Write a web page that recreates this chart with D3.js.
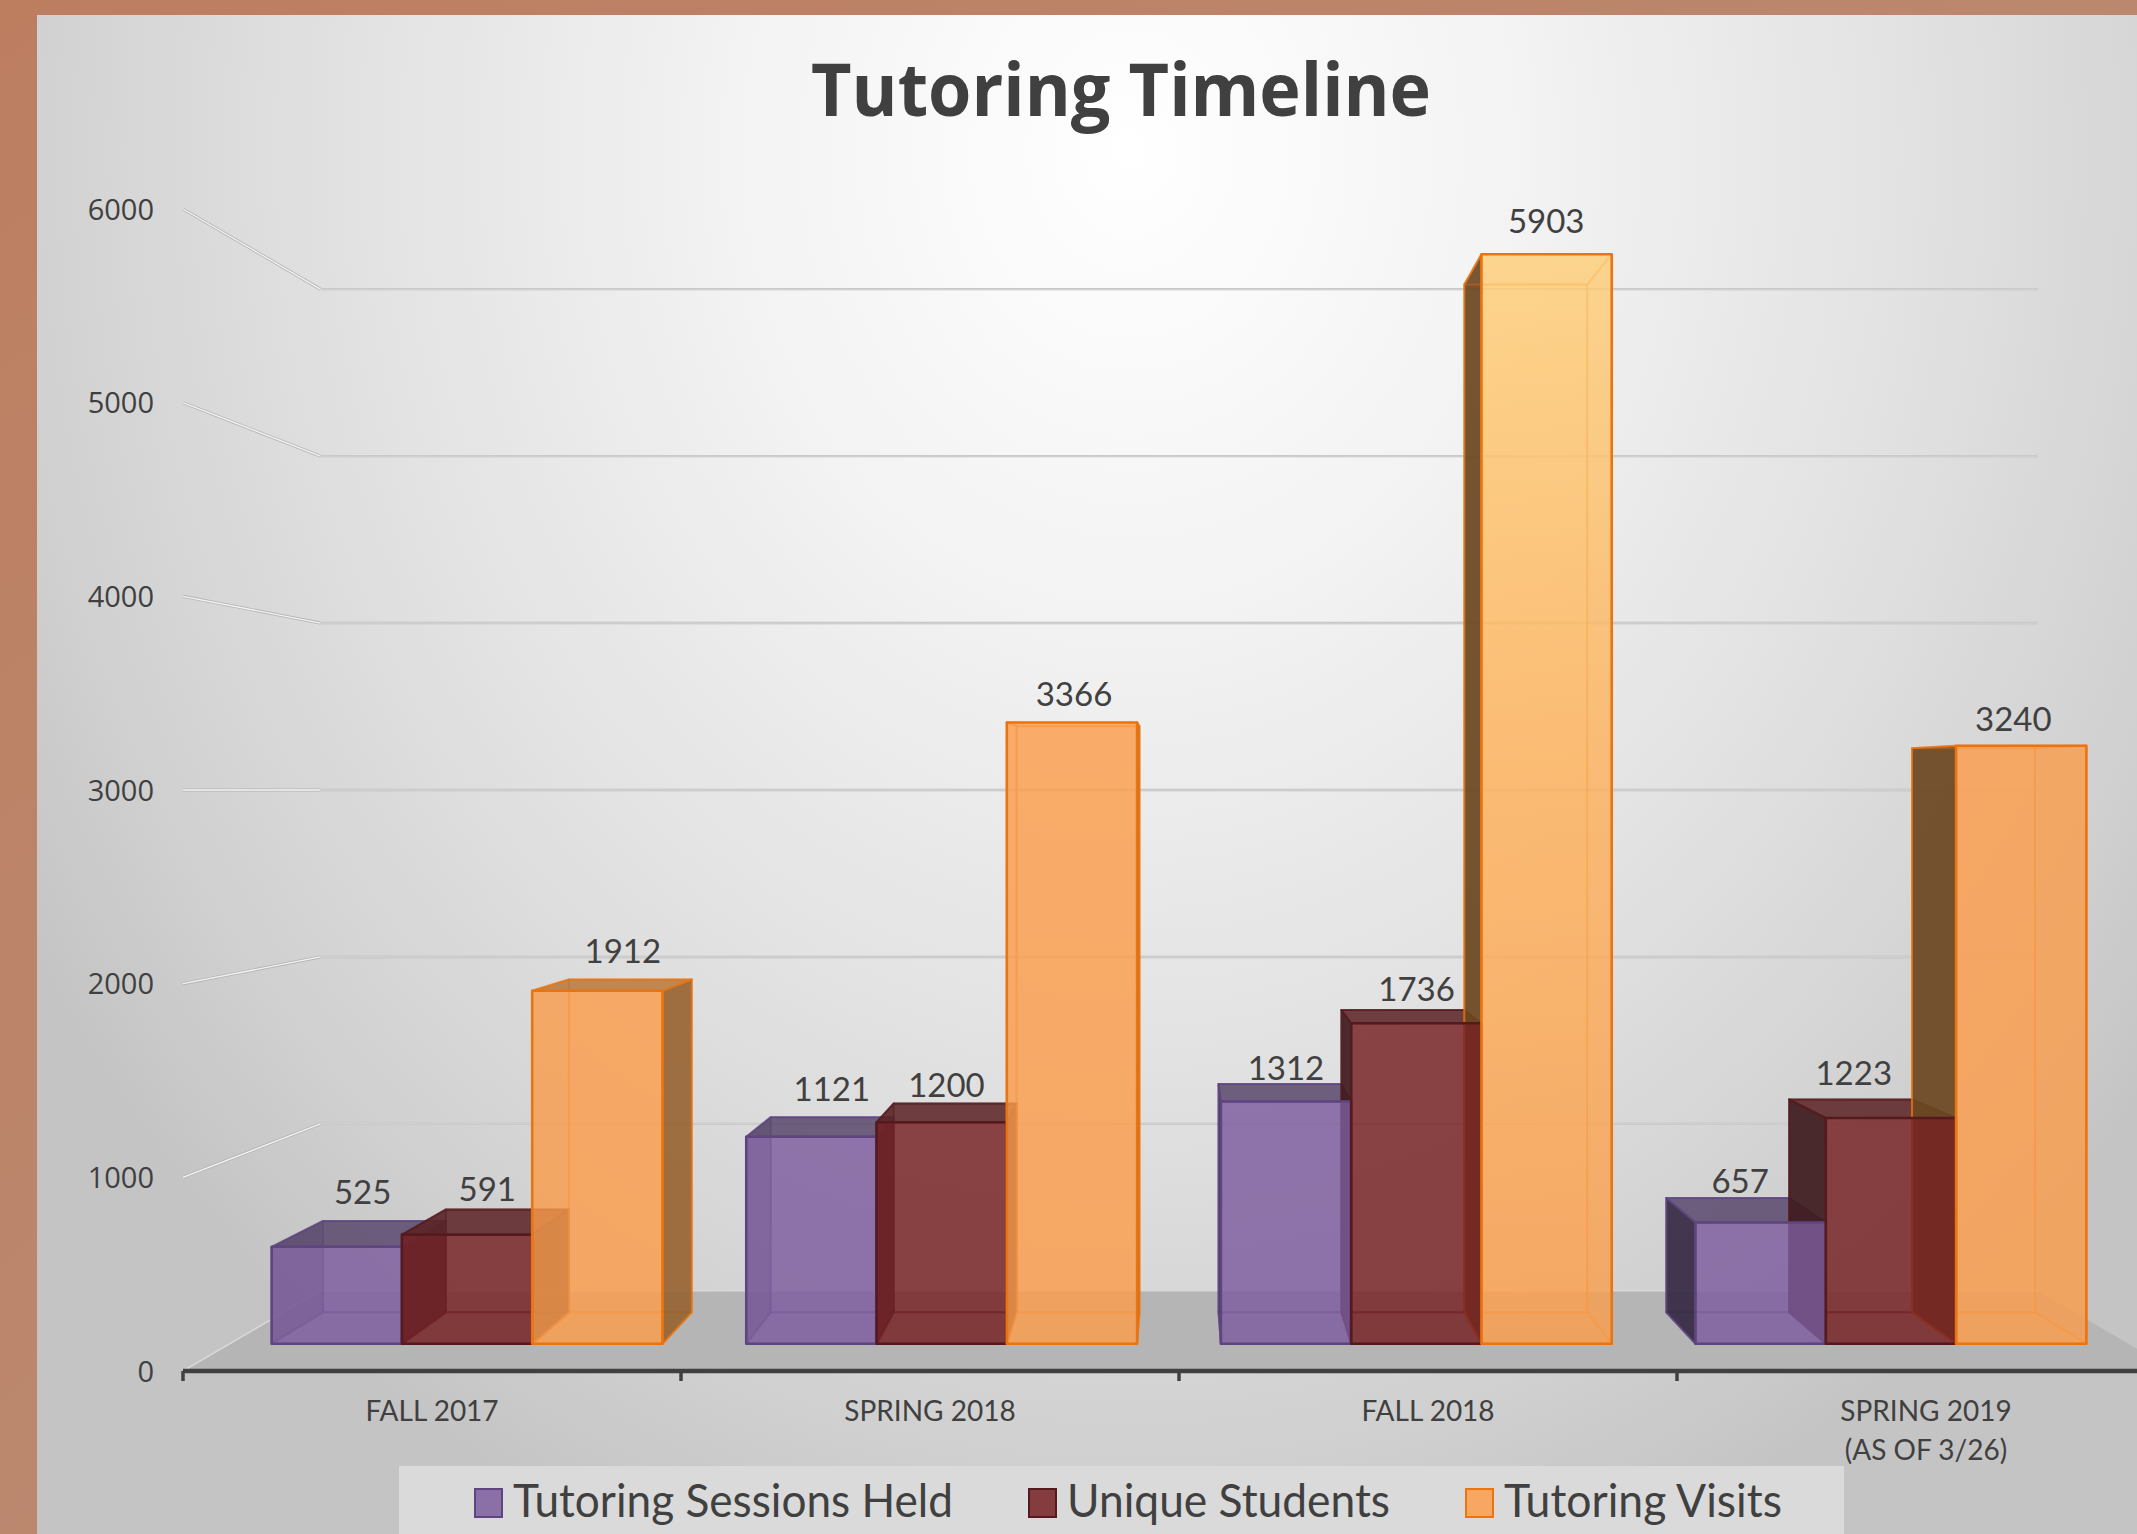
<!DOCTYPE html>
<html><head><meta charset="utf-8">
<script src="https://cdnjs.cloudflare.com/ajax/libs/d3/7.8.5/d3.min.js"></script>
<style>html,body{margin:0;padding:0;overflow:hidden;background:#bd8266}svg{display:block}</style>
</head><body><svg id="c" width="2137" height="1534"></svg>
<script>
const categories=["FALL 2017","SPRING 2018","FALL 2018","SPRING 2019"];
const categorySecondLine=["","","","(AS OF 3/26)"];
const seriesNames=["Tutoring Sessions Held","Unique Students","Tutoring Visits"];
const sessionsHeld=[525,1121,1312,657];
const uniqueStudents=[591,1200,1736,1223];
const tutoringVisits=[1912,3366,5903,3240];
const yTicks=[0,1000,2000,3000,4000,5000,6000];
const labelDx=[[2,10,3,-4],[0,-2,7,-17],[9,-1,10,16]];
const labelDy=[[-2,-1,11,10],[7,9,6,1],[-1,-1,-6,0]];

const W=2137,H=1534;
const svg=d3.select("#c");
const defs=svg.append("defs");
const bg=defs.append("linearGradient").attr("id","frame").attr("x1",0).attr("y1",0).attr("x2",1).attr("y2",1);
bg.append("stop").attr("offset",0).attr("stop-color","#bd7e60");
bg.append("stop").attr("offset",1).attr("stop-color","#b9917c");
const pg=defs.append("radialGradient").attr("id","panel").attr("gradientUnits","userSpaceOnUse")
 .attr("cx",0).attr("cy",0).attr("r",1).attr("gradientTransform","translate(1130,150) scale(1300,1520)");
[[0,"#ffffff"],[.3,"#f3f3f3"],[.6,"#e2e2e2"],[.85,"#d1d1d1"],[1,"#c4c4c4"]].forEach(s=>pg.append("stop").attr("offset",s[0]).attr("stop-color",s[1]));
const og=defs.append("linearGradient").attr("id","tallOrange").attr("gradientUnits","userSpaceOnUse").attr("x1",0).attr("x2",0).attr("y1",250).attr("y2",1344);
[[0,"#ffcf78"],[.46,"#ffb35c"],[1,"#fb9e4c"]].forEach(s=>og.append("stop").attr("offset",s[0]).attr("stop-color",s[1]));

svg.append("rect").attr("width",W).attr("height",H).attr("fill","url(#frame)");
svg.append("rect").attr("x",37).attr("y",15).attr("width",W-37).attr("height",H-15).attr("fill","url(#panel)");

const x0=d3.scaleBand().domain(categories).range([183,2175]).paddingInner(.1765).paddingOuter(.0882);
const xBand=d3.scaleBand().domain(categories).range([183,2175]);
const x1=d3.scaleBand().domain(seriesNames).range([0,x0.bandwidth()]);
const y=d3.scaleLinear().domain([0,6000]).range([1371,209]);
const depth=d3.scaleLinear().domain([0,1]).range([0,.16]);
const vx=(183+2175)/2, vy=y(3000);
const P=(wx,v,d)=>{const s=1/(1+depth(d));return [vx+(wx-vx)*s, vy+(y(v)-vy)*s];};
const line=d3.line().curve(d3.curveLinearClosed);
const path=d3.line();
const dFront=.308,dBack=.702;

// floor
svg.append("path").attr("d",line([P(183,0,0),P(2175,0,0),P(2175,0,1),P(183,0,1)])).attr("fill","#b5b5b5");
// gridlines
const grid=svg.append("g");
yTicks.filter(t=>t>0).forEach(t=>{
  const side=[P(183,t,0),P(183,t,1)];
  const back=[P(183,t,1),P(2175,t,1)];
  grid.append("path").attr("d",path(back)).attr("fill","none").attr("stroke","#bdbdbd").attr("stroke-width",2.4);
  grid.append("path").attr("d",path(back)).attr("fill","none").attr("stroke","#ffffff").attr("stroke-opacity",.55).attr("stroke-width",.9);
  grid.append("path").attr("d",path(side)).attr("fill","none").attr("stroke","#b4b4b4").attr("stroke-width",3);
  grid.append("path").attr("d",path(side)).attr("fill","none").attr("stroke","#f4f4f4").attr("stroke-width",1.3);
});
grid.append("path").attr("d",path([P(183,0,0),P(183,0,1),P(2175,0,1)])).attr("fill","none").attr("stroke","#d8d8d8").attr("stroke-width",1.5);

// axes
const axX=svg.append("g").attr("transform",`translate(0,${y(0)})`);
axX.append("line").attr("x1",183).attr("x2",2175).attr("stroke","#404040").attr("stroke-width",4.5);
categories.forEach(c=>axX.append("line").attr("x1",xBand(c)).attr("x2",xBand(c)).attr("y1",0).attr("y2",10).attr("stroke","#404040").attr("stroke-width",3.5));
const lab=svg.append("g").attr("font-family","Lato, 'Open Sans', sans-serif").attr("fill","#404040").attr("font-size",28).attr("text-anchor","middle");
categories.forEach((c,i)=>{
  const cx=xBand(c)+xBand.bandwidth()/2;
  lab.append("text").attr("x",cx).attr("y",1421).text(c);
  if(categorySecondLine[i]) lab.append("text").attr("x",cx).attr("y",1460).text(categorySecondLine[i]);
});
const axY=svg.append("g").attr("transform","translate(183,1)").call(d3.axisLeft(y).tickValues(yTicks).tickSize(0).tickPadding(29).tickFormat(d3.format("d")));
axY.select(".domain").remove();
axY.selectAll("text").attr("font-family","'Open Sans', sans-serif").attr("font-size",29).attr("fill","#404040");

// bars
const palette=[
 {front:"#7d5d9f",sideL:"#362a44",sideR:"#40324f",top:"#5c4a6e",edge:"#5f4580",inner:.42},
 {front:"#752022",sideL:"#3f1c1f",sideR:"#3f1c1f",top:"#5c2427",edge:"#551a1e",inner:.4},
 {front:"#fb9e4c",sideL:"#6a4722",sideR:"#94602e",top:"#b8793c",edge:"#ea7410",inner:.06}
];
const seriesValues=[sessionsHeld,uniqueStudents,tutoringVisits];
const bars=svg.append("g");
const labels=[];
categories.forEach((c,ci)=>{
 const fronts=[];
 seriesNames.forEach((s,si)=>{
  const v=seriesValues[si][ci],p=palette[si];
  const a=x0(c)+x1(s),b=a+x1.bandwidth();
  const f=[P(a,v,dFront),P(b,v,dFront),P(b,0,dFront),P(a,0,dFront)];
  const k=[P(a,v,dBack),P(b,v,dBack),P(b,0,dBack),P(a,0,dBack)];
  const g=bars.append("g").attr("stroke-linejoin","round");
  const face=(pts,fill,op,sop,sw)=>g.append("path").attr("d",line(pts)).attr("fill",fill).attr("fill-opacity",op).attr("stroke",p.edge).attr("stroke-opacity",sop).attr("stroke-width",sw);
  face(k,p.front,.12,.4,2);
  face([k[3],k[2],f[2],f[3]],p.front,.15,.4,2);
  const outerLeft=f[0][0]>k[0][0], outerRight=f[1][0]<k[1][0];
  face([f[0],k[0],k[3],f[3]],p.sideL,outerLeft?.92:p.inner,outerLeft?.8:.35,2);
  face([f[1],k[1],k[2],f[2]],p.sideR,outerRight?.88:p.inner,outerRight?.8:.35,2);
  const topVisible=k[0][1]<f[0][1];
  face([f[0],f[1],k[1],k[0]],p.top,topVisible?.85:.06,topVisible?.8:.4,2);
  fronts.push({f,p,v,si});
  const topX=(f[0][0]+f[1][0]+k[0][0]+k[1][0])/4;
  const topY=Math.min(f[0][1],k[0][1]);
  labels.push({x:topX+labelDx[si][ci],y:topY-15+labelDy[si][ci],t:v});
 });
 fronts.forEach(d=>{
  const tall=d.si===2&&d.v>5000;
  bars.append("path").attr("d",line(d.f)).attr("fill",tall?"url(#tallOrange)":d.p.front).attr("fill-opacity",.8)
   .attr("stroke",d.p.edge).attr("stroke-width",2.6).attr("stroke-linejoin","round");
 });
});
const dl=svg.append("g").attr("font-family","Lato, sans-serif").attr("font-size",33).attr("fill","#404040").attr("text-anchor","middle");
labels.forEach(l=>dl.append("text").attr("x",l.x).attr("y",l.y).text(l.t));

// title
svg.append("text").attr("x",1121).attr("y",116).attr("text-anchor","middle").attr("font-family","'Open Sans', sans-serif").attr("font-weight",700).attr("font-size",74).attr("fill","#404040")
 .attr("textLength",620).attr("lengthAdjust","spacingAndGlyphs").text("Tutoring Timeline");

// legend
svg.append("rect").attr("x",399).attr("y",1466).attr("width",1445).attr("height",68).attr("fill","#dadada");
const legendX=[475,1029,1466];
const legendW=[440,323,278];
seriesNames.forEach((s,i)=>{
  svg.append("rect").attr("x",legendX[i]).attr("y",1489).attr("width",27).attr("height",28).attr("fill",palette[i].front).attr("fill-opacity",.85).attr("stroke",palette[i].edge).attr("stroke-width",2);
  svg.append("text").attr("x",legendX[i]+38).attr("y",1517).attr("font-family","Lato, sans-serif").attr("font-size",46).attr("fill","#404040")
   .attr("textLength",legendW[i]).attr("lengthAdjust","spacingAndGlyphs").text(s);
});
</script></body></html>
